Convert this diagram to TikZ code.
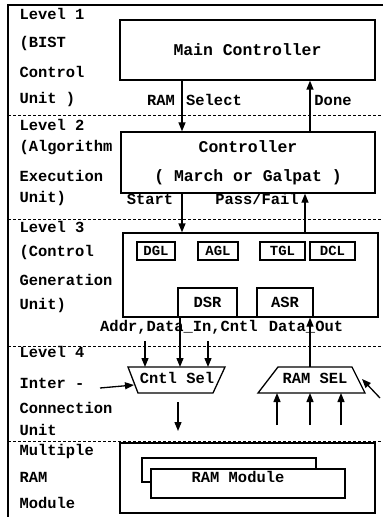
\documentclass[tikz,border=0pt]{standalone}
\usepackage{fontspec}
\setmainfont{Liberation Mono}
\usetikzlibrary{arrows.meta}
\begin{document}
\begin{tikzpicture}[x=1bp,y=-1bp, line width=1.3bp,
  box/.style={draw, rectangle, inner sep=0pt, fill=white},
  lbl/.style={font=\bfseries\fontsize{15.5}{18}\selectfont, inner sep=0pt},
  big/.style={font=\bfseries\fontsize{16.5}{19}\selectfont, inner sep=0pt},
  small/.style={font=\bfseries\fontsize{14}{16}\selectfont, inner sep=0pt},
  side/.style={lbl, anchor=west},
  arr/.style={-{Triangle[length=9bp,width=7bp]}},
  sep/.style={dash pattern=on 3bp off 2bp, line width=1bp}]
\useasboundingbox (0,0) rectangle (383,517);

% frame
\coordinate (ftl) at (8,5);
\coordinate (ftr) at (383,5);
\coordinate (fbl) at (8,517);
\draw (ftr) -- (ftl) -- (fbl);

% separators
\foreach \y/\n in {116/s1,219/s2,346/s3,441/s4}{
  \coordinate (\n a) at (8,\y);
  \coordinate (\n b) at (383,\y);
  \draw[sep] (\n a) -- (\n b);
}

% left labels
\node[side] (l1a) at (19,14) {Level 1};
\node[side] (l1b) at (19,44) {(BIST};
\node[side] (l1c) at (19,72) {Control};
\node[side] (l1d) at (19,100) {Unit )};
\node[side] (l2a) at (19,125) {Level 2};
\node[side] (l2b) at (19,148) {(Algorithm};
\node[side] (l2c) at (19,176) {Execution};
\node[side] (l2d) at (19,199) {Unit)};
\node[side] (l3a) at (19,227) {Level 3};
\node[side] (l3b) at (19,253) {(Control};
\node[side] (l3c) at (19,280) {Generation};
\node[side] (l3d) at (19,306) {Unit)};
\node[side] (l4a) at (19,352) {Level 4};
\node[side] (l4b) at (19,383) {Inter -};
\node[side] (l4c) at (19,408) {Connection};
\node[side] (l4d) at (19,430) {Unit};
\node[side] (l5a) at (19,452) {Multiple};
\node[side] (l5b) at (19,477) {RAM};
\node[side] (l5c) at (19,503) {Module};

% level 1 / 2 boxes
\node[box, minimum width=255bp, minimum height=60bp, big] (main) at (247.5,50) {Main Controller};
\node[box, minimum width=254bp, minimum height=61bp, align=center, big] (ctrl) at (248,162.5)
  {Controller\\[10bp]( March or Galpat )};

% level 3
\node[box, minimum width=255bp, minimum height=84bp] (cgu) at (250.5,275) {};
\node[box, small, minimum width=38bp, minimum height=18bp] (dgl) at (156,251) {DGL};
\node[box, small, minimum width=40bp, minimum height=18bp] (agl) at (218,251) {AGL};
\node[box, small, minimum width=45bp, minimum height=18bp] (tgl) at (282.5,251) {TGL};
\node[box, small, minimum width=45bp, minimum height=18bp] (dcl) at (332.5,251) {DCL};
\node[box, lbl, minimum width=59bp, minimum height=29bp] (dsr) at (207.5,302.5) {DSR};
\node[box, lbl, minimum width=56bp, minimum height=29bp] (asr) at (285,302.5) {ASR};

% x positions of connectors
\coordinate (xa) at (182,0);
\coordinate (xb) at (310,0);
\coordinate (xc) at (305,0);

% level 1-2-3 connectors
\draw[arr] (main.south -| xa) -- (ctrl.north -| xa);
\draw[arr] (ctrl.north -| xb) -- (main.south -| xb);
\node[lbl] (tram) at (161,100) {RAM};
\node[lbl] (tsel) at (214,100) {Select};
\node[lbl] (tdone) at (333,100) {Done};
\draw[arr] (ctrl.south -| xa) -- (cgu.north -| xa);
\draw[arr] (cgu.north -| xc) -- (ctrl.south -| xc);
\node[lbl] (tstart) at (150,199) {Start};
\node[lbl] (tpf) at (257,199) {Pass/Fail};

% level 4 selectors
\coordinate (c1) at (128,367);
\coordinate (c2) at (225,367);
\coordinate (c3) at (213,393);
\coordinate (c4) at (138,393);
\draw (c1) -- (c2) -- (c3) -- (c4) -- cycle;
\node[lbl] (cntl) at (177,378) {Cntl Sel};

\coordinate (r1) at (278,367);
\coordinate (r2) at (352,367);
\coordinate (r3) at (365,393);
\coordinate (r4) at (258,393);
\draw (r1) -- (r2) -- (r3) -- (r4) -- cycle;
\node[lbl] (rsel) at (315,378) {RAM SEL};

\node[lbl] (taddr) at (179,327) {Addr,Data\_In,Cntl};
\node[lbl] (tdout) at (306,327) {Data\_Out};

% level 3-4 connectors
\coordinate (a1) at (145,341);
\coordinate (a1e) at (145,367);
\coordinate (a2) at (208,341);
\coordinate (a2e) at (208,367);
\draw[arr] (a1) -- (a1e);
\draw[arr] (a2) -- (a2e);
\coordinate (a3e) at (180,367);
\draw[arr] (dsr.south -| a3e) -- (a3e);
\coordinate (a4) at (310,367);
\draw[arr] (a4) -- (asr.south -| a4);

% side inputs
\coordinate (in1) at (100,388);
\coordinate (in1e) at (134,385);
\draw[arr] (in1) -- (in1e);
\coordinate (in2) at (380,398);
\coordinate (in2e) at (362,379);
\draw[arr] (in2) -- (in2e);

% arrows below selectors
\coordinate (d1) at (178,402);
\coordinate (d1e) at (178,431);
\draw[arr] (d1) -- (d1e);
\foreach \x/\n in {277/u1,310/u2,341/u3}{
  \coordinate (\n) at (\x,425);
  \coordinate (\n e) at (\x,393);
  \draw[arr] (\n) -- (\n e);
}

% level 5
\node[box, minimum width=255bp, minimum height=70bp] (l5) at (247.5,478) {};
\node[box, minimum width=174bp, minimum height=24bp] (ramb) at (229,470) {};
\node[box, minimum width=194bp, minimum height=29bp] (ramf) at (248,483.5) {};
\node[lbl] (tram5) at (238,477) {RAM Module};
\end{tikzpicture}
\end{document}
